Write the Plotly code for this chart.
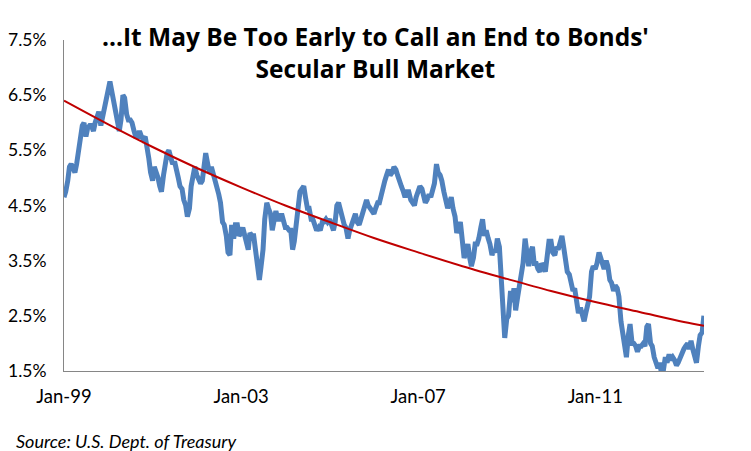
import pandas as pd
import plotly.graph_objects as go

# 10-year Treasury yield (%) at twice-monthly steps
y1999 = [4.65, 4.75, 4.95, 5.20, 5.25, 5.15, 5.10, 5.25, 5.50, 5.70, 5.95, 6.00,
         5.75, 5.90, 5.95, 5.95, 5.85, 6.00, 6.10, 6.20, 5.95, 6.10, 6.20, 6.40]
y2000 = [6.55, 6.75, 6.55, 6.40, 6.30, 6.05, 5.85, 6.05, 6.50, 6.45, 6.15, 6.05,
         6.05, 6.00, 5.85, 5.75, 5.75, 5.85, 5.75, 5.70, 5.75, 5.60, 5.35, 5.10]
y2001 = [4.95, 5.20, 5.10, 5.00, 4.85, 4.75, 5.05, 5.30, 5.45, 5.50, 5.30, 5.25,
         5.30, 5.10, 5.00, 4.85, 4.80, 4.60, 4.50, 4.30, 4.45, 4.85, 5.05, 5.20]
y2002 = [5.05, 5.00, 4.90, 4.95, 5.25, 5.45, 5.25, 5.10, 5.20, 5.10, 4.95, 4.85,
         4.70, 4.55, 4.20, 4.15, 3.95, 3.65, 3.60, 4.15, 3.90, 4.15, 4.15, 3.95]
y2003 = [4.00, 4.10, 3.95, 3.80, 3.70, 4.00, 3.95, 3.95, 3.65, 3.40, 3.15, 3.40,
         3.70, 4.25, 4.55, 4.45, 4.35, 4.05, 4.25, 4.40, 4.25, 4.25, 4.35, 4.20]
y2004 = [4.10, 4.10, 4.05, 4.05, 3.70, 3.85, 4.30, 4.45, 4.75, 4.80, 4.85, 4.65,
         4.45, 4.45, 4.25, 4.25, 4.15, 4.05, 4.10, 4.05, 4.20, 4.20, 4.25, 4.20]
y2005 = [4.25, 4.15, 4.05, 4.20, 4.50, 4.55, 4.40, 4.25, 4.15, 4.10, 3.90, 4.05,
         4.15, 4.25, 4.35, 4.20, 4.15, 4.25, 4.40, 4.50, 4.60, 4.50, 4.45, 4.40]
y2006 = [4.35, 4.45, 4.55, 4.55, 4.70, 4.75, 4.95, 5.05, 5.15, 5.05, 5.10, 5.20,
         5.15, 5.05, 4.90, 4.85, 4.75, 4.65, 4.75, 4.75, 4.60, 4.55, 4.50, 4.65]
y2007 = [4.75, 4.85, 4.80, 4.60, 4.55, 4.60, 4.70, 4.65, 4.75, 4.90, 5.25, 5.10,
         5.05, 4.95, 4.75, 4.60, 4.45, 4.55, 4.65, 4.45, 4.30, 4.00, 4.10, 4.20]
y2008 = [3.85, 3.55, 3.65, 3.80, 3.55, 3.40, 3.55, 3.80, 3.80, 3.90, 4.10, 4.25,
         3.95, 4.05, 3.90, 3.80, 3.60, 3.70, 3.65, 3.90, 3.75, 3.15, 2.55, 2.10]
y2009 = [2.45, 2.50, 2.95, 2.75, 3.00, 2.60, 2.85, 3.05, 3.25, 3.45, 3.90, 3.70,
         3.40, 3.65, 3.75, 3.45, 3.45, 3.35, 3.30, 3.45, 3.40, 3.30, 3.60, 3.85]
y2010 = [3.85, 3.65, 3.60, 3.75, 3.70, 3.85, 3.95, 3.75, 3.55, 3.30, 3.25, 3.05,
         2.95, 3.00, 2.80, 2.55, 2.65, 2.55, 2.40, 2.55, 2.70, 2.85, 3.30, 3.40]
y2011 = [3.35, 3.45, 3.65, 3.55, 3.45, 3.35, 3.50, 3.40, 3.15, 3.10, 2.95, 3.05,
         3.00, 2.85, 2.40, 2.20, 1.90, 1.75, 2.15, 2.35, 2.00, 2.00, 1.95, 1.85]
y2012 = [1.95, 1.95, 2.00, 1.95, 2.30, 2.35, 2.00, 1.95, 1.75, 1.65, 1.55, 1.65,
         1.45, 1.50, 1.75, 1.65, 1.80, 1.70, 1.75, 1.70, 1.60, 1.65, 1.75, 1.80]
y2013 = [1.90, 1.95, 2.00, 1.90, 2.05, 1.90, 1.75, 1.65, 1.95, 2.15, 2.20, 2.50]

yields = (y1999 + y2000 + y2001 + y2002 + y2003 + y2004 + y2005 + y2006
          + y2007 + y2008 + y2009 + y2010 + y2011 + y2012 + y2013)
dates = pd.date_range("1999-01-01", periods=len(yields), freq="SMS")

# exponential trendline, read at the start of each year and at the end
trend_dates = ["1999-01-01", "2000-01-01", "2001-01-01", "2002-01-01", "2003-01-01",
               "2004-01-01", "2005-01-01", "2006-01-01", "2007-01-01", "2008-01-01",
               "2009-01-01", "2010-01-01", "2011-01-01", "2012-01-01", "2013-01-01",
               "2013-06-16"]
trend_vals = [6.40, 5.97, 5.56, 5.18, 4.83, 4.50, 4.20, 3.91, 3.65, 3.40,
              3.17, 2.95, 2.75, 2.57, 2.39, 2.32]

y_ticks = [1.5, 2.5, 3.5, 4.5, 5.5, 6.5, 7.5]
y_labels = ["1.5%", "2.5%", "3.5%", "4.5%", "5.5%", "6.5%", "7.5%"]
x_ticks = ["1999-01-01", "2003-01-01", "2007-01-01", "2011-01-01"]
x_labels = ["Jan-99", "Jan-03", "Jan-07", "Jan-11"]

FONT = "Lato"

fig = go.Figure()
fig.add_trace(go.Scatter(
    x=dates, y=yields, mode="lines",
    line=dict(color="#4F81BD", width=5),
    hoverinfo="x+y",
))
fig.add_trace(go.Scatter(
    x=trend_dates, y=trend_vals, mode="lines",
    line=dict(color="#C00000", width=2, shape="spline"),
    hoverinfo="skip",
))

# the page body adds an 8px margin, so the figure is 8px smaller on each axis
fig.update_layout(
    width=743,
    height=443,
    showlegend=False,
    plot_bgcolor="white",
    paper_bgcolor="white",
    margin=dict(l=56, r=47, t=32, b=80, autoexpand=False),
    font=dict(family=FONT, size=18.5, color="#000000"),
    xaxis=dict(
        range=["1999-01-01", "2013-06-16"],
        tickvals=x_ticks, ticktext=x_labels,
        showgrid=False, zeroline=False, automargin=False,
        showline=True, linecolor="#868686", linewidth=1,
        ticks="", ticklabelstandoff=9,
    ),
    yaxis=dict(
        range=[1.5, 7.5],
        tickvals=y_ticks, ticktext=y_labels,
        showgrid=False, zeroline=False, automargin=False,
        showline=True, linecolor="#868686", linewidth=1,
        ticks="", ticklabelstandoff=13,
        tickfont=dict(size=17.5),
    ),
    annotations=[
        dict(
            text="<b>...It May Be Too Early to Call an End to Bonds'<br>Secular Bull Market</b>",
            xref="paper", yref="paper", x=0.486, y=1 - 12 / 331,
            xanchor="center", yanchor="middle", showarrow=False,
            font=dict(family="Open Sans", size=24.5, color="#000000"),
        ),
        dict(
            text="<i>Source: U.S. Dept. of Treasury</i>",
            xref="paper", yref="paper", x=-50 / 640, y=-70 / 331,
            xanchor="left", yanchor="middle", showarrow=False,
            font=dict(family=FONT, size=18, color="#000000"),
        ),
    ],
)

fig.write_html("out.html")
